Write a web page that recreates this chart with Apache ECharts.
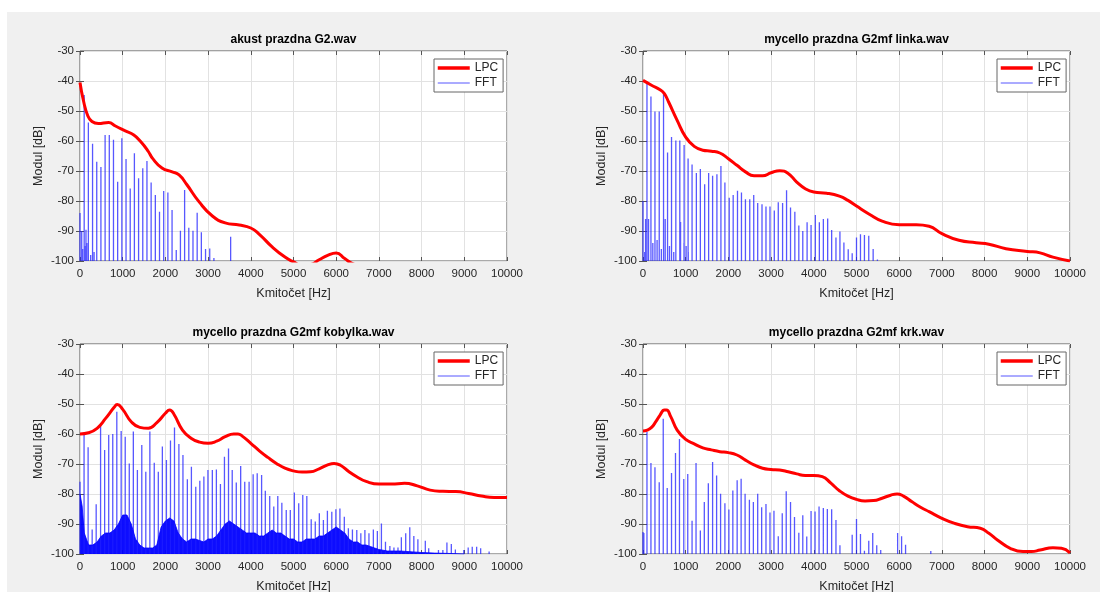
<!DOCTYPE html>
<html>
<head>
<meta charset="utf-8">
<script src="https://cdn.jsdelivr.net/npm/echarts@6/dist/echarts.min.js"></script>
<style>
  html, body { margin: 0; padding: 0; background: #fff; }
  #panel { position: absolute; left: 7px; top: 12px; width: 1093px; height: 580px; background: #f0f0f0; }
  #main { position: absolute; left: 0; top: 0; width: 1107px; height: 592px; }
</style>
</head>
<body>
<div id="panel"></div>
<div id="main"></div>
<script>
// nazvy grafu
var titles = ['akust prazdna G2.wav', 'mycello prazdna G2mf linka.wav',
  'mycello prazdna G2mf kobylka.wav', 'mycello prazdna G2mf krk.wav'];

// LPC obalky [Hz, dB]
var lpcAkust = [[0,-40.5],[80,-46.5],[180,-51.5],[280,-53.5],[430,-54.2],[670,-53.8],[830,-55],[1060,-56.6],
  [1260,-58],[1420,-60.2],[1600,-63.5],[1700,-65.8],[1920,-69],[2160,-70.3],[2320,-71.3],[2500,-74.5],
  [2790,-80.3],[3100,-85],[3400,-87.3],[3730,-88],[4000,-89],[4200,-91.1],[4500,-95.3],[4800,-98.7],
  [5000,-100.3],[5200,-101.5],[5400,-101.2],[5600,-99.6],[5800,-98.1],[6000,-97.3],[6200,-99.2],[6400,-101],[6700,-102]];
var lpcLinka = [[0,-39.8],[200,-41.4],[400,-42.9],[500,-44.2],[600,-47],[800,-53.1],[1000,-58.7],[1200,-61.8],
  [1400,-63.1],[1600,-63.4],[1800,-64],[2000,-65.9],[2200,-68.1],[2400,-70.3],[2600,-71.6],[2800,-71.6],
  [3000,-70.6],[3200,-69.9],[3400,-70.8],[3600,-73.7],[3800,-75.9],[4000,-77],[4300,-77.4],[4600,-78.4],
  [4800,-79.8],[5000,-81.7],[5300,-84.4],[5600,-86.7],[6000,-87.9],[6400,-87.9],[6700,-88.4],[7000,-90.9],
  [7400,-93.1],[7800,-93.9],[8100,-94.4],[8500,-95.9],[9000,-96.8],[9300,-97.3],[9600,-98.7],[10000,-100]];
var lpcKobylka = [[0,-60],[200,-59.6],[400,-58.1],[600,-54.8],[800,-51.1],[870,-50.2],[1000,-51.8],[1200,-55.9],
  [1400,-57.8],[1600,-58.1],[1800,-56.2],[2000,-53.1],[2100,-52],[2200,-53.4],[2400,-58.7],[2600,-61.4],
  [2800,-62.7],[3000,-63.1],[3200,-62.4],[3400,-60.9],[3600,-60],[3700,-60],[3800,-60.7],[4000,-63.1],
  [4200,-65.6],[4400,-67.8],[4600,-69.8],[4800,-71.4],[5000,-72.3],[5200,-72.7],[5400,-72.6],[5600,-71.6],
  [5800,-70.3],[5950,-69.8],[6100,-70.4],[6300,-72.6],[6500,-74.4],[6700,-75.8],[7000,-76.7],[7300,-76.7],
  [7600,-76.4],[7900,-77.3],[8200,-78.7],[8500,-79.1],[8800,-79.2],[9100,-79.8],[9400,-80.7],[9700,-81.2],[10000,-81.2]];
var lpcKrk = [[0,-59],[100,-58.7],[200,-57.8],[300,-55.9],[400,-53.7],[500,-52],[550,-52],[650,-54.2],[800,-58.7],
  [1000,-61.8],[1200,-63.3],[1400,-64.6],[1600,-65.3],[1800,-65.9],[2000,-66.2],[2200,-67],[2400,-68.7],
  [2600,-70.3],[2800,-71.4],[3000,-71.8],[3200,-72],[3400,-72.6],[3600,-73.3],[3800,-73.8],[4000,-73.8],
  [4200,-74.2],[4400,-76.4],[4600,-78.9],[4800,-80.7],[5000,-81.8],[5200,-82.3],[5400,-82.2],[5600,-81.4],
  [5800,-80.4],[5950,-80],[6100,-80.7],[6300,-82.6],[6500,-84.4],[6700,-85.9],[7000,-88.1],[7300,-89.8],
  [7600,-90.9],[7900,-91.4],[8100,-93.1],[8300,-95.3],[8600,-98.1],[8900,-99.2],[9100,-99.2],[9300,-98.7],
  [9600,-97.9],[9800,-98.1],[10000,-99.6]];

// FFT spektralni cary [Hz, dB]
var fftAkust = [[0,-84],[40,-90],[60,-96],[120,-95],[140,-89.6],[160,-94],[250,-98],[330,-97],
  [98,-44.7],[196,-53.8],[294,-60.9],[392,-66.9],[490,-68.7],[588,-58],[686,-58],[784,-59.6],[882,-73.6],
  [980,-59.1],[1078,-66],[1176,-75.8],[1274,-64.1],[1372,-72.4],[1470,-69.1],[1568,-66.7],[1666,-73.8],
  [1764,-78],[1862,-83.6],[1960,-76.7],[2058,-77.2],[2156,-83],[2254,-96.3],[2352,-89.9],[2450,-76.3],
  [2548,-88.9],[2646,-89.9],[2744,-83.9],[2842,-90.4],[2940,-96],[3038,-95.8],[3136,-99],[3528,-91.9]];
var fftLinka = [[0,-80],[40,-97],[60,-86],[130,-86],[230,-94],[330,-93],[430,-96],[520,-86],[620,-95],
  [720,-97],[880,-87],[960,-94],[1010,-95],[1060,-97],
  [93,-40.2],[186,-45.2],[280,-50.2],[380,-50.2],[481,-44.4],[575,-63.8],[668,-58.7],[769,-59.8],[862,-59.8],
  [963,-61.3],[1056,-65.8],[1149,-67.8],[1250,-70.7],[1343,-69.3],[1444,-74.4],[1537,-70.7],[1630,-71.6],
  [1731,-71.1],[1825,-68.3],[1918,-73.8],[2019,-78.9],[2112,-78],[2213,-76.6],[2306,-77.2],[2399,-79.4],
  [2500,-79.4],[2593,-78],[2686,-80.7],[2787,-81.1],[2880,-81.8],[2974,-81.8],[3075,-83.2],[3168,-80.4],
  [3269,-80.7],[3362,-76.4],[3455,-82.2],[3556,-83.6],[3649,-88.2],[3742,-90],[3843,-87.1],[3936,-88],
  [4037,-84.7],[4130,-87.1],[4224,-86],[4325,-85.8],[4418,-89.7],[4519,-92.2],[4612,-90.2],[4705,-93.8],
  [4806,-96.1],[4899,-97.4],[5000,-92.2],[5093,-91.1],[5186,-91.3],[5287,-91.6],[5390,-96],[5490,-99.5]];
var fftKobylka = [[0,-75.9],[95,-60],[190,-64.4],[285,-91.8],[379,-83.4],[482,-56.7],[577,-65.3],[672,-60.3],
  [767,-60],[862,-52.6],[964,-59],[1059,-60.9],[1154,-69.8],[1249,-59.2],[1344,-72],[1447,-63.7],[1541,-72.6],
  [1636,-59.2],[1739,-69.6],[1834,-72.6],[1929,-64.2],[2024,-68.7],[2119,-62.2],[2213,-57.8],[2316,-63.3],
  [2411,-67],[2514,-75.1],[2609,-70.9],[2711,-77.6],[2806,-75.6],[2901,-74.2],[2996,-72],[3099,-72],
  [3194,-71.8],[3289,-76.7],[3383,-67.6],[3478,-64.8],[3565,-72],[3660,-76.2],[3763,-70.7],[3858,-75.9],
  [3960,-75.9],[4055,-73.4],[4150,-73.1],[4253,-73.7],[4340,-78.9],[4443,-80.7],[4538,-84.2],[4632,-80.7],
  [4727,-82.9],[4830,-85.3],[4925,-85.3],[5020,-79.5],[5122,-83.1],[5217,-80.3],[5312,-80.7],[5415,-88.4],
  [5510,-89.2],[5605,-86.4],[5700,-88.7],[5794,-85.6],[5897,-85.9],[5992,-85.1],[6087,-84.8],[6190,-87.6],
  [6285,-91.4],[6380,-91.8],[6482,-92],[6577,-93.1],[6672,-92],[6767,-93.1],[6870,-91.8],[6964,-92.3],
  [7059,-89.8],[7154,-95.9],[7257,-97.3],[7352,-97.8],[7447,-97.8],[7526,-94.4],[7628,-93.1],[7723,-91.1],
  [7818,-94],[7913,-95.1],[8087,-95.6],[8166,-98.1],[8395,-98.7],[8498,-98.7],[8593,-96.2],[8696,-96.7],
  [8791,-98.5],[8988,-98.7],[9091,-97.8],[9186,-97.6],[9289,-97.6],[9383,-98.1],[9581,-99.2]];
var fftKrk = [[0,-92.7],[20,-93],[93,-59.3],[186,-69.7],[280,-71.1],[380,-76.1],[474,-54.9],[567,-78],[668,-73],
  [761,-66.3],[854,-61.7],[955,-75],[1048,-73.3],[1149,-88.9],[1242,-69.7],[1343,-92.2],[1436,-82.7],
  [1530,-76.4],[1630,-69.3],[1724,-73.8],[1817,-79.9],[1918,-83.1],[2011,-85.2],[2104,-78.8],[2205,-75.4],
  [2298,-74.9],[2391,-79.9],[2492,-81.9],[2585,-82.7],[2686,-79.9],[2779,-84.4],[2880,-83.3],[2974,-86.2],
  [3067,-85.6],[3168,-94.1],[3261,-86.4],[3354,-79.1],[3455,-82.7],[3548,-87.7],[3649,-92.9],[3742,-87.1],
  [3835,-94.2],[3936,-85.7],[4029,-85.8],[4123,-84.2],[4223,-84.7],[4317,-85],[4418,-85.1],[4519,-88.7],
  [4612,-97.1],[4899,-93.6],[5000,-88.3],[5093,-93.3],[5186,-98.9],[5287,-95.6],[5380,-93],[5474,-97.1],
  [5567,-98.7],[5963,-93],[6056,-94.1],[6149,-96.9],[6740,-99]];
// sumove pozadi (kobylka)
var noiseKobylka = [[0,-80],[50,-84],[100,-93],[200,-97],[300,-97],[400,-96],[500,-94],[600,-93],[700,-93],
  [800,-92],[900,-90],[1000,-87],[1100,-87],[1200,-90],[1300,-95],[1400,-97],[1500,-98],[1600,-98],[1700,-98],
  [1800,-97],[1900,-91],[2000,-89],[2100,-88],[2200,-89],[2300,-93],[2400,-95],[2500,-96],[2600,-95],[2700,-95],
  [2800,-95.5],[2900,-96],[3000,-95],[3100,-95],[3200,-94],[3300,-92],[3400,-90],[3500,-89],[3600,-90],
  [3700,-91],[3800,-92],[3900,-93],[4000,-93],[4100,-93],[4200,-94],[4300,-94],[4400,-93],[4500,-92],
  [4600,-93],[4700,-93],[4800,-94],[4900,-95],[5000,-95],[5100,-96],[5200,-96],[5300,-95],[5400,-95],
  [5500,-95],[5600,-94],[5700,-94],[5800,-93],[5900,-92],[6000,-91],[6100,-92],[6200,-93],[6300,-95],
  [6400,-96],[6500,-96],[6600,-97],[6700,-97],[6800,-97.5],[6900,-98],[7000,-98.5],[7200,-99],[7500,-99],
  [7800,-99.3],[8000,-99.5],[8300,-99.7],[8600,-99.8],[9000,-100]];

var lpcAll = [lpcAkust, lpcLinka, lpcKobylka, lpcKrk];
var fftAll = [fftAkust, fftLinka, fftKobylka, fftKrk];

var FONT = 'Liberation Sans, Arial, sans-serif';
var gridLeft = [80, 643, 80, 643];
var gridTop = [51, 51, 344, 344];
var GW = 427, GH = 210;

// cary od -100 dB nahoru, oddelene prazdnou hodnotou
function stems(list) {
  var out = [];
  list.forEach(function (p) {
    out.push([p[0], -100], [p[0], p[1]], [p[0], '-']);
  });
  return out;
}

var grids = [], xAxes = [], yAxes = [], series = [], legends = [], titleArr = [];
for (var k = 0; k < 4; k++) {
  grids.push({
    left: gridLeft[k], top: gridTop[k], width: GW, height: GH,
    show: true, backgroundColor: '#fff', borderColor: '#555', borderWidth: 1,
    outerBoundsMode: 'none'
  });
  titleArr.push({
    text: titles[k], left: gridLeft[k] + GW / 2, top: gridTop[k] - 17, textAlign: 'center', padding: 0,
    textStyle: { fontSize: 12, fontWeight: 'bold', color: '#000', fontFamily: FONT }
  });
  legends.push({
    orient: 'vertical', left: gridLeft[k] + GW - 73, top: gridTop[k] + 8,
    backgroundColor: '#fff', borderColor: '#666', borderWidth: 1, borderRadius: 0,
    padding: [3, 5, 3, 2], itemGap: 3, itemWidth: 32, itemHeight: 12, itemTextGap: 4, selectedMode: false,
    textStyle: { fontSize: 12, color: '#262626', fontFamily: FONT },
    data: [
      { name: 'LPC', lineStyle: { width: 3.5 }, itemStyle: { opacity: 0 } },
      { name: 'FFT', lineStyle: { width: 1 }, itemStyle: { opacity: 0 } }
    ]
  });
}
// spodni a leve osy
for (var k = 0; k < 4; k++) {
  xAxes.push({
    type: 'value', gridIndex: k, min: 0, max: 10000, interval: 1000,
    axisLine: { show: false },
    axisTick: { show: true, inside: true, length: 4, lineStyle: { color: '#555' } },
    axisLabel: { margin: 7, fontSize: 11.5, color: '#262626', fontFamily: FONT,
      formatter: function (v) { return String(v); } },
    splitLine: { show: true, lineStyle: { color: '#e2e2e2' } },
    name: 'Kmitočet [Hz]', nameLocation: 'middle', nameGap: 26,
    nameTextStyle: { fontSize: 12.5, color: '#262626', fontFamily: FONT }
  });
  yAxes.push({
    type: 'value', gridIndex: k, min: -100, max: -30, interval: 10,
    axisLine: { show: false },
    axisTick: { show: true, inside: true, length: 4, lineStyle: { color: '#555' } },
    axisLabel: { margin: 6, fontSize: 11.5, color: '#262626', fontFamily: FONT },
    splitLine: { show: true, lineStyle: { color: '#e2e2e2' } },
    name: 'Modul [dB]', nameLocation: 'middle', nameGap: 35, nameRotate: 90,
    nameTextStyle: { fontSize: 12.5, color: '#262626', fontFamily: FONT }
  });
}
// horni a prave osy (jen ticky)
for (var k = 0; k < 4; k++) {
  xAxes.push({
    type: 'value', gridIndex: k, position: 'top', min: 0, max: 10000, interval: 1000,
    axisLine: { show: false }, axisLabel: { show: false }, splitLine: { show: false },
    axisTick: { show: true, inside: true, length: 4, lineStyle: { color: '#555' } }
  });
  yAxes.push({
    type: 'value', gridIndex: k, position: 'right', min: -100, max: -30, interval: 10,
    axisLine: { show: false }, axisLabel: { show: false }, splitLine: { show: false },
    axisTick: { show: true, inside: true, length: 4, lineStyle: { color: '#555' } }
  });
}

for (var k = 0; k < 4; k++) {
  series.push({
    name: 'FFT', type: 'line', xAxisIndex: k, yAxisIndex: k,
    data: stems(fftAll[k]), symbol: 'none', connectNulls: false,
    lineStyle: { color: '#1f1fff', width: 1.3, opacity: 0.75 },
    itemStyle: { color: '#1f1fff' }, z: 2
  });
  if (k === 2) {
    series.push({
      name: 'FFT sum', type: 'line', xAxisIndex: k, yAxisIndex: k,
      data: noiseKobylka, symbol: 'none',
      lineStyle: { color: '#0000ff', width: 0.8 },
      areaStyle: { color: '#0000ff', opacity: 0.95, origin: 'start' },
      itemStyle: { color: '#0000ff' }, z: 2
    });
  }
  series.push({
    name: 'LPC', type: 'line', xAxisIndex: k, yAxisIndex: k,
    data: lpcAll[k], smooth: true, symbol: 'none',
    lineStyle: { color: '#ff0000', width: 3 },
    itemStyle: { color: '#ff0000' }, z: 3
  });
}

var myChart = echarts.init(document.getElementById('main'));
myChart.setOption({
  backgroundColor: 'transparent',
  animation: false,
  title: titleArr,
  legend: legends,
  grid: grids,
  xAxis: xAxes,
  yAxis: yAxes,
  series: series
});
</script>
</body>
</html>
